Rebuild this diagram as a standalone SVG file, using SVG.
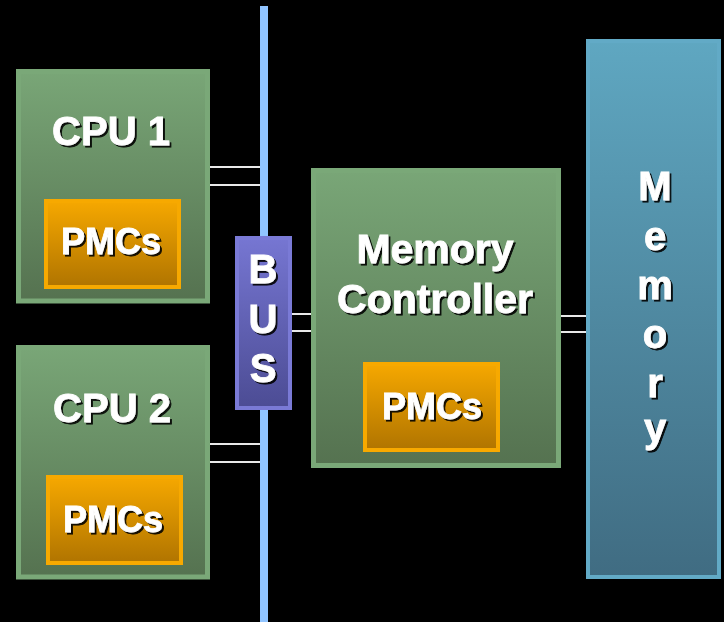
<svg xmlns="http://www.w3.org/2000/svg" width="724" height="622" viewBox="0 0 724 622">
<defs>
<linearGradient id="gGreen" x1="0" y1="0" x2="0" y2="1"><stop offset="0" stop-color="#79a677"/><stop offset="1" stop-color="#557250"/></linearGradient>
<linearGradient id="gOrange" x1="0" y1="0" x2="0" y2="1"><stop offset="0" stop-color="#f6a800"/><stop offset="1" stop-color="#b07400"/></linearGradient>
<linearGradient id="gBus" x1="0" y1="0" x2="0" y2="1"><stop offset="0" stop-color="#7676d2"/><stop offset="1" stop-color="#4c4c94"/></linearGradient>
<linearGradient id="gMem" x1="0" y1="0" x2="0" y2="1"><stop offset="0" stop-color="#5fa7c1"/><stop offset="1" stop-color="#406c82"/></linearGradient>
<filter id="sh" x="-20%" y="-20%" width="140%" height="140%"><feDropShadow dx="2" dy="2" stdDeviation="0.6" flood-color="#000" flood-opacity="0.9"/></filter>
</defs>
<style>
.green{fill:url(#gGreen);stroke:#7aa878;stroke-width:5}
.orange{fill:url(#gOrange);stroke:#f7a900;stroke-width:4}
.bus{fill:url(#gBus);stroke:#7a7ad6;stroke-width:4}
.mem{fill:url(#gMem);stroke:#62aac6;stroke-width:4}
.t{font-family:"Liberation Sans",Arial,sans-serif;font-weight:bold;fill:#fff;stroke:#fff;stroke-width:0.8;text-anchor:middle;filter:url(#sh)}
.big{font-size:40px}
.mc{font-size:41px}
.pm{font-size:36px}
.wire{stroke:#e8e8e8;stroke-width:2;fill:none}
</style>
<rect width="724" height="622" fill="#000"/>
<g id="connectors">
<line class="wire" x1="210" y1="167" x2="260" y2="167"/>
<line class="wire" x1="210" y1="185" x2="260" y2="185"/>
<line class="wire" x1="210" y1="444" x2="260" y2="444"/>
<line class="wire" x1="210" y1="462" x2="260" y2="462"/>
<line class="wire" x1="292" y1="314" x2="311" y2="314"/>
<line class="wire" x1="292" y1="331" x2="311" y2="331"/>
<line class="wire" x1="561" y1="316" x2="586" y2="316"/>
<line class="wire" x1="561" y1="332" x2="586" y2="332"/>
</g>
<g id="busline"><rect x="260" y="6" width="8" height="616" fill="#90c4ff"/></g>
<g id="cpu1">
<rect class="green" x="18.5" y="71.5" width="189" height="229.5"/>
<text class="t big" x="111" y="145">CPU 1</text>
<g id="pmc1"><rect class="orange" x="46" y="201" width="133" height="86"/>
<text class="t pm" x="111" y="254">PMCs</text></g>
</g>
<g id="cpu2">
<rect class="green" x="18.5" y="347.5" width="189" height="229.5"/>
<text class="t big" x="112" y="422">CPU 2</text>
<g id="pmc2"><rect class="orange" x="48" y="477" width="133" height="86"/>
<text class="t pm" x="113" y="532">PMCs</text></g>
</g>
<g id="bus">
<rect class="bus" x="237" y="238" width="53" height="170"/>
<text class="t big" x="263" y="283">B</text>
<text class="t big" x="263" y="333">U</text>
<text class="t big" x="263" y="382">S</text>
</g>
<g id="memctrl">
<rect class="green" x="313.5" y="170.5" width="245" height="295"/>
<text class="t mc" x="435" y="263">Memory</text>
<text class="t mc" x="435" y="313">Controller</text>
<g id="pmc3"><rect class="orange" x="365" y="364" width="133" height="86"/>
<text class="t pm" x="432" y="419">PMCs</text></g>
</g>
<g id="memory">
<rect class="mem" x="588" y="41" width="131" height="536"/>
<text class="t big" x="655" y="200">M</text>
<text class="t big" x="655" y="250">e</text>
<text class="t big" x="655" y="299">m</text>
<text class="t big" x="655" y="348">o</text>
<text class="t big" x="655" y="397">r</text>
<text class="t big" x="655" y="442">y</text>
</g>
</svg>
